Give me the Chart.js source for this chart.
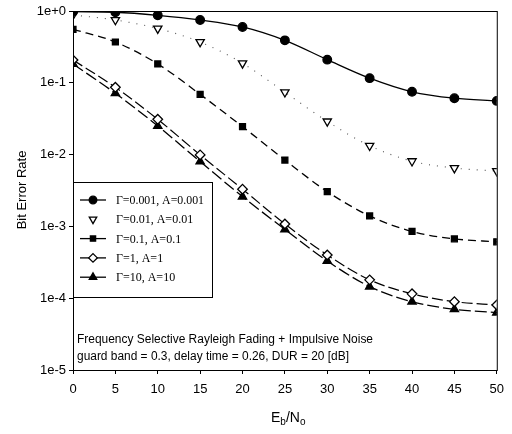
<!DOCTYPE html>
<html>
<head>
<meta charset="utf-8">
<script src="https://cdn.jsdelivr.net/npm/chart.js@4.4.1/dist/chart.umd.min.js"></script>
<style>
  html, body { margin: 0; padding: 0; background: #fff; }
  #grafico { display: block; }
</style>
</head>
<body>
<canvas id="grafico" width="512" height="434"></canvas>
<script>
// datos (Eb/No en dB, BER)
const ebno = [0, 5, 10, 15, 20, 25, 30, 35, 40, 45, 50]
const berG0001 = [0.98, 0.96, 0.87, 0.75, 0.60, 0.39, 0.21, 0.116, 0.075, 0.061, 0.056]
const berG001 = [0.88, 0.75, 0.57, 0.37, 0.187, 0.074, 0.029, 0.0133, 0.0081, 0.0065, 0.0059]
const berG01 = [0.556, 0.37, 0.183, 0.069, 0.0245, 0.0084, 0.00305, 0.0014, 0.00085, 0.00067, 0.00061]
const berG1 = [0.208, 0.0865, 0.031, 0.0099, 0.0033, 0.00108, 0.0004, 0.00018, 0.000115, 0.0000894, 0.0000804]
const berG10 = [0.183, 0.0714, 0.025, 0.008, 0.0026, 0.00091, 0.00033, 0.000145, 0.0000894, 0.00007, 0.000063]

const etiquetas = ['\u0393=0.001, A=0.001', '\u0393=0.01, A=0.01', '\u0393=0.1, A=0.1', '\u0393=1, A=1', '\u0393=10, A=10']
const ticksY = [1, 1e-1, 1e-2, 1e-3, 1e-4, 1e-5]
const notas = ['Frequency Selective Rayleigh Fading + Impulsive Noise',
               'guard band = 0.3, delay time = 0.26, DUR = 20 [dB]']

const series = [berG0001, berG001, berG01, berG1, berG10]
const estilos = [
    { pointStyle: 'circle', radius: 4.3, fill: true, dash: [], width: 1.3, rotation: 0, color: '#000' },
    { pointStyle: 'triangle', radius: 4.8, fill: false, dash: [1, 7], width: 1.1, rotation: 180, color: '#555' },
    { pointStyle: 'rect', radius: 4.2, fill: true, dash: [8, 5], width: 1.3, rotation: 0, color: '#000' },
    { pointStyle: 'rectRot', radius: 4.8, fill: false, dash: [11, 4], width: 1.2, rotation: 0, color: '#000' },
    { pointStyle: 'triangle', radius: 4.8, fill: true, dash: [12, 4], width: 1.3, rotation: 0, color: '#000' }
]

const datasets = series.map((valores, i) => {
    const e = estilos[i]
    return {
        label: etiquetas[i],
        data: ebno.map((x, j) => ({ x, y: valores[j] })),
        borderColor: e.color,
        backgroundColor: e.fill ? '#000' : '#fff',
        borderWidth: e.width,
        borderDash: e.dash,
        pointStyle: e.pointStyle,
        pointRadius: e.radius,
        pointRotation: e.rotation,
        pointBorderWidth: 1.3,
        pointBackgroundColor: e.fill ? '#000' : '#fff',
        pointBorderColor: '#000',
        cubicInterpolationMode: 'monotone',
        showLine: true
    }
})

// marco, leyenda interna, notas y titulos
const extras = {
    id: 'extras',
    afterDraw(chart) {
        const ctx = chart.ctx
        const a = chart.chartArea
        ctx.save()
        ctx.strokeStyle = '#000'
        ctx.lineWidth = 1
        ctx.strokeRect(a.left + 0.5, a.top + 0.5, a.right - a.left, a.bottom - a.top)

        // leyenda
        const bx = a.left, by = 182, bw = 139, bh = 115
        ctx.fillStyle = '#fff'
        ctx.fillRect(bx + 1, by, bw, bh)
        ctx.strokeRect(bx + 0.5, by + 0.5, bw, bh)
        chart.data.datasets.forEach((ds, i) => {
            const y = 200 + i * 19.3
            const e = estilos[i]
            if (i !== 1) {
                ctx.setLineDash([])
                ctx.lineWidth = 1.3
                ctx.beginPath()
                ctx.moveTo(80, y)
                ctx.lineTo(106, y)
                ctx.stroke()
            }
            ctx.fillStyle = e.fill ? '#000' : '#fff'
            ctx.strokeStyle = '#000'
            ctx.lineWidth = 1.3
            Chart.helpers.drawPoint(ctx, { pointStyle: e.pointStyle, radius: e.radius - 0.5, rotation: e.rotation, borderWidth: 1.3 }, 93, y)
            ctx.fillStyle = '#000'
            ctx.font = '12px "Liberation Serif", "Times New Roman", serif'
            ctx.textBaseline = 'middle'
            ctx.textAlign = 'left'
            ctx.fillText(ds.label, 116, y + 1, 88)
        })

        // notas
        ctx.font = '12.5px "Liberation Sans Narrow", "Liberation Sans", Arial, sans-serif'
        ctx.fillText(notas[0], 77, 340, 296)
        ctx.fillText(notas[1], 77, 357, 272)

        // titulo eje x: Eb/No
        ctx.font = '14px "Liberation Sans", Arial, sans-serif'
        ctx.textBaseline = 'alphabetic'
        let x = 271
        const base = 422
        ctx.fillText('E', x, base); x += ctx.measureText('E').width
        ctx.font = '10px "Liberation Sans", Arial, sans-serif'
        ctx.fillText('b', x, base + 3); x += ctx.measureText('b').width
        ctx.font = '14px "Liberation Sans", Arial, sans-serif'
        ctx.fillText('/N', x, base); x += ctx.measureText('/N').width
        ctx.font = '10px "Liberation Sans", Arial, sans-serif'
        ctx.fillText('o', x, base + 3)

        // titulo eje y
        ctx.translate(22, 190)
        ctx.rotate(-Math.PI / 2)
        ctx.font = '13px "Liberation Sans", Arial, sans-serif'
        ctx.textAlign = 'center'
        ctx.textBaseline = 'middle'
        ctx.fillText('Bit Error Rate', 0, 0)
        ctx.restore()
    }
}

new Chart(document.getElementById('grafico'), {
    type: 'scatter',
    data: { datasets },
    options: {
        responsive: false,
        animation: false,
        layout: { padding: { left: 0, top: 11, right: 9, bottom: 0 } },
        plugins: { legend: { display: false }, tooltip: { enabled: false } },
        scales: {
            x: {
                type: 'linear',
                min: 0,
                max: 50,
                ticks: { stepSize: 5, color: '#000', padding: 8, font: { family: '"Liberation Sans", Arial', size: 13 } },
                grid: { drawOnChartArea: false, tickLength: 4, color: '#000' },
                border: { color: '#000' },
                afterFit: scale => { scale.height = 64 }
            },
            y: {
                type: 'logarithmic',
                min: 1e-5,
                max: 1,
                afterBuildTicks: scale => { scale.ticks = ticksY.map(v => ({ value: v })) },
                ticks: {
                    color: '#000',
                    padding: 3,
                    font: { family: '"Liberation Sans", Arial', size: 13 },
                    callback: v => {
                        const exp = Math.round(Math.log10(v))
                        return '1e' + (exp === 0 ? '+0' : exp)
                    }
                },
                grid: { drawOnChartArea: false, tickLength: 4, color: '#000' },
                border: { color: '#000' },
                afterFit: scale => { scale.width = 73 }
            }
        }
    },
    plugins: [extras]
})
</script>
</body>
</html>
